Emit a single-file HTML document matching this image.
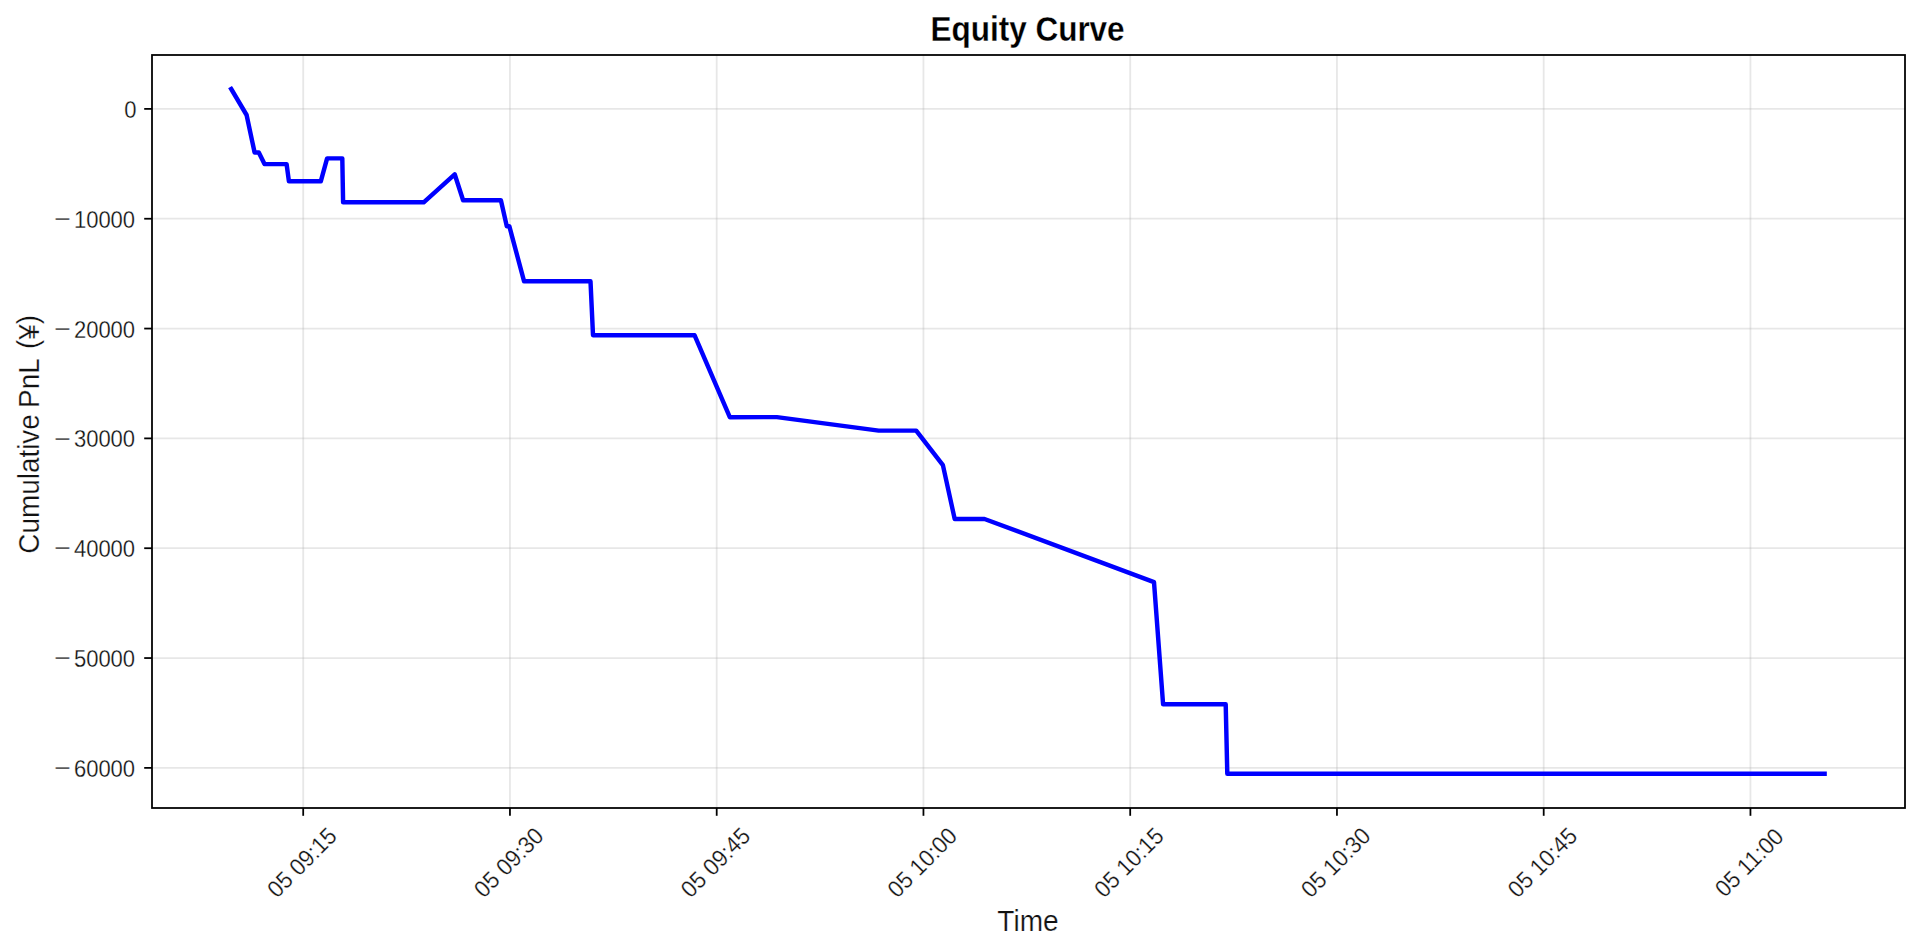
<!DOCTYPE html>
<html lang="en">
<head>
<meta charset="utf-8">
<title>Equity Curve</title>
<style>
html,body{margin:0;padding:0;background:#fff;}
body{width:1920px;height:951px;overflow:hidden;}
svg{display:block;}
text{font-family:"Liberation Sans", "Noto Sans CJK JP", sans-serif;fill:#111;stroke:#fff;stroke-width:0.25px;}
.tick{font-size:23.6px;}
.lab{font-size:29.4px;}
.title{font-size:34.7px;font-weight:bold;fill:#000;}
.grid line{stroke:#b0b0b0;stroke-opacity:0.3;stroke-width:1.78;}
.ticks line{stroke:#000;stroke-width:1.78;}
</style>
</head>
<body>
<svg width="1920" height="951" viewBox="0 0 1920 951">
<rect x="0" y="0" width="1920" height="951" fill="#ffffff"/>
<g class="grid">
<line x1="303.20" y1="55.00" x2="303.20" y2="808.00"/>
<line x1="509.95" y1="55.00" x2="509.95" y2="808.00"/>
<line x1="716.70" y1="55.00" x2="716.70" y2="808.00"/>
<line x1="923.45" y1="55.00" x2="923.45" y2="808.00"/>
<line x1="1130.20" y1="55.00" x2="1130.20" y2="808.00"/>
<line x1="1336.95" y1="55.00" x2="1336.95" y2="808.00"/>
<line x1="1543.70" y1="55.00" x2="1543.70" y2="808.00"/>
<line x1="1750.45" y1="55.00" x2="1750.45" y2="808.00"/>
<line x1="152.00" y1="108.90" x2="1905.00" y2="108.90"/>
<line x1="152.00" y1="218.73" x2="1905.00" y2="218.73"/>
<line x1="152.00" y1="328.56" x2="1905.00" y2="328.56"/>
<line x1="152.00" y1="438.39" x2="1905.00" y2="438.39"/>
<line x1="152.00" y1="548.22" x2="1905.00" y2="548.22"/>
<line x1="152.00" y1="658.05" x2="1905.00" y2="658.05"/>
<line x1="152.00" y1="767.88" x2="1905.00" y2="767.88"/>
</g>
<polyline points="231.2,89.0 246.6,115.0 254.6,152.5 258.8,152.5 264.5,164.1 286.6,164.1 288.9,181.3 320.8,181.3 327.1,158.4 342.3,158.4 343.1,202.3 423.7,202.3 454.7,174.3 463.1,200.3 500.9,200.3 506.8,226.2 509.3,226.2 524.1,281.3 590.5,281.3 593.0,335.2 694.5,335.2 729.8,417.2 776.9,417.1 878.7,430.6 916.2,430.6 942.9,465.1 954.7,519.0 984.5,519.0 1154.0,582.1 1163.1,704.3 1225.7,704.3 1227.3,773.8 1824.6,773.8" fill="none" stroke="#0000ff" stroke-width="4.44" stroke-linecap="square" stroke-linejoin="round"/>
<g class="ticks">
<line x1="303.20" y1="808.00" x2="303.20" y2="815.80"/>
<line x1="509.95" y1="808.00" x2="509.95" y2="815.80"/>
<line x1="716.70" y1="808.00" x2="716.70" y2="815.80"/>
<line x1="923.45" y1="808.00" x2="923.45" y2="815.80"/>
<line x1="1130.20" y1="808.00" x2="1130.20" y2="815.80"/>
<line x1="1336.95" y1="808.00" x2="1336.95" y2="815.80"/>
<line x1="1543.70" y1="808.00" x2="1543.70" y2="815.80"/>
<line x1="1750.45" y1="808.00" x2="1750.45" y2="815.80"/>
<line x1="144.20" y1="108.90" x2="152.00" y2="108.90"/>
<line x1="144.20" y1="218.73" x2="152.00" y2="218.73"/>
<line x1="144.20" y1="328.56" x2="152.00" y2="328.56"/>
<line x1="144.20" y1="438.39" x2="152.00" y2="438.39"/>
<line x1="144.20" y1="548.22" x2="152.00" y2="548.22"/>
<line x1="144.20" y1="658.05" x2="152.00" y2="658.05"/>
<line x1="144.20" y1="767.88" x2="152.00" y2="767.88"/>
</g>
<rect x="152.00" y="55.00" width="1753.00" height="753.00" fill="none" stroke="#000" stroke-width="1.78"/>
<text class="tick" transform="translate(136.60,117.60) scale(0.9330,1)" text-anchor="end">0</text>
<text class="tick" transform="translate(135.10,227.73) scale(0.9330,1)" text-anchor="end"><tspan dy="-0.90" textLength="17.80" lengthAdjust="spacingAndGlyphs">−</tspan><tspan dx="3.19" dy="0.90">10000</tspan></text>
<text class="tick" transform="translate(135.10,337.56) scale(0.9330,1)" text-anchor="end"><tspan dy="-0.90" textLength="17.80" lengthAdjust="spacingAndGlyphs">−</tspan><tspan dx="3.19" dy="0.90">20000</tspan></text>
<text class="tick" transform="translate(135.10,447.39) scale(0.9330,1)" text-anchor="end"><tspan dy="-0.90" textLength="17.80" lengthAdjust="spacingAndGlyphs">−</tspan><tspan dx="3.19" dy="0.90">30000</tspan></text>
<text class="tick" transform="translate(135.10,557.22) scale(0.9330,1)" text-anchor="end"><tspan dy="-0.90" textLength="17.80" lengthAdjust="spacingAndGlyphs">−</tspan><tspan dx="3.19" dy="0.90">40000</tspan></text>
<text class="tick" transform="translate(135.10,667.05) scale(0.9330,1)" text-anchor="end"><tspan dy="-0.90" textLength="17.80" lengthAdjust="spacingAndGlyphs">−</tspan><tspan dx="3.19" dy="0.90">50000</tspan></text>
<text class="tick" transform="translate(135.10,776.88) scale(0.9330,1)" text-anchor="end"><tspan dy="-0.90" textLength="17.80" lengthAdjust="spacingAndGlyphs">−</tspan><tspan dx="3.19" dy="0.90">60000</tspan></text>
<text class="tick" transform="translate(301.90,862.40) rotate(-45) scale(0.9450,1)" text-anchor="middle" y="8.20">05 09:15</text>
<text class="tick" transform="translate(508.65,862.40) rotate(-45) scale(0.9450,1)" text-anchor="middle" y="8.20">05 09:30</text>
<text class="tick" transform="translate(715.40,862.40) rotate(-45) scale(0.9450,1)" text-anchor="middle" y="8.20">05 09:45</text>
<text class="tick" transform="translate(922.15,862.40) rotate(-45) scale(0.9450,1)" text-anchor="middle" y="8.20">05 10:00</text>
<text class="tick" transform="translate(1128.90,862.40) rotate(-45) scale(0.9450,1)" text-anchor="middle" y="8.20">05 10:15</text>
<text class="tick" transform="translate(1335.65,862.40) rotate(-45) scale(0.9450,1)" text-anchor="middle" y="8.20">05 10:30</text>
<text class="tick" transform="translate(1542.40,862.40) rotate(-45) scale(0.9450,1)" text-anchor="middle" y="8.20">05 10:45</text>
<text class="tick" transform="translate(1749.15,862.40) rotate(-45) scale(0.9450,1)" text-anchor="middle" y="8.20">05 11:00</text>
<text class="lab" transform="translate(1028.00,930.50) scale(0.9550,1)" text-anchor="middle">Time</text>
<text class="lab" transform="translate(39.40,434.30) rotate(-90) scale(0.9500,1)" text-anchor="middle">Cumulative <tspan dx="-1.6">PnL</tspan> <tspan dx="1.6" dy="-1.1">(</tspan><tspan dy="1.1">¥</tspan><tspan dy="-1.1">)</tspan></text>
<text class="title" transform="translate(1027.60,40.60) scale(0.9070,1)" text-anchor="middle">Equity Curve</text>
</svg>
</body>
</html>
